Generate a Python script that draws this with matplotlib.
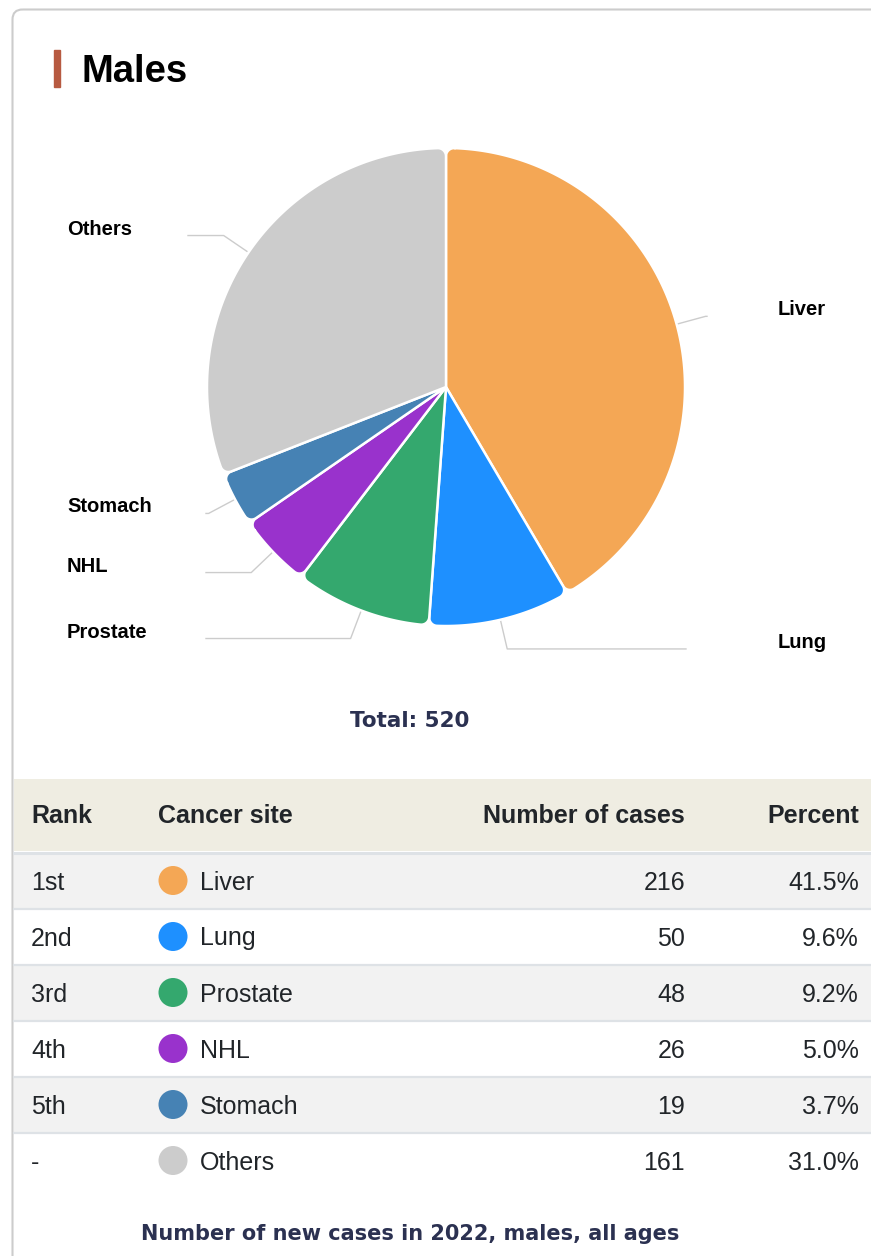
import numpy as np
import matplotlib
matplotlib.use("Agg")
import matplotlib.pyplot as plt
from matplotlib.patches import Rectangle, Circle, FancyBboxPatch, PathPatch
from matplotlib.path import Path

# data
sites = ["Liver", "Lung", "Prostate", "NHL", "Stomach", "Others"]
ranks = ["1st", "2nd", "3rd", "4th", "5th", "-"]
cases = [216, 50, 48, 26, 19, 161]
percents = [41.5, 9.6, 9.2, 5.0, 3.7, 31.0]
total = 520
colors = ["#f4a755", "#1e90ff", "#34a86e", "#9932cc", "#4682b4", "#cccccc"]

# label layout (pixels): where each label starts and where its connector ends
label_x = [778, 778, 67, 67, 67, 67]
connector_end_x = [707, 686, 206, 206, 206, 188]

W, H = 871, 1256
TEXT = "#212529"
NAVY = "#2b3151"

fig = plt.figure(figsize=(W / 100, H / 100), dpi=100)
fig.patch.set_facecolor("white")

bg = fig.add_axes([0, 0, 1, 1])
bg.set_xlim(0, W)
bg.set_ylim(H, 0)
bg.axis("off")

# card outline
bg.add_patch(FancyBboxPatch((12.5, 9.5), 1000, 1400,
                            boxstyle="round,pad=0,rounding_size=10",
                            fc="none", ec="#cccccc", lw=1.5))

# title
bg.add_patch(Rectangle((54, 50), 5.5, 37, color="#b75a41"))
bg.text(81, 82, "Males", fontsize=27.5, fontweight="bold",
        family="Liberation Sans", va="baseline", color="#000000")

# pie
cx, cy, R = 446, 387, 239
S = 300
pie_ax = fig.add_axes([(cx - S) / W, (H - cy - S) / H, 2 * S / W, 2 * S / H])
wedges, _ = pie_ax.pie(cases, colors=colors, radius=R, startangle=90,
                       counterclock=False)
pie_ax.set_xlim(-S, S)
pie_ax.set_ylim(-S, S)
pie_ax.axis("off")


def rounded_wedge(t1, t2, r, rc=8, n=16):
    a1, a2 = np.radians(t1), np.radians(t2)
    d = np.arcsin(rc / (r - rc))
    c1 = (r - rc) * np.array([np.cos(a1 + d), np.sin(a1 + d)])
    c2 = (r - rc) * np.array([np.cos(a2 - d), np.sin(a2 - d)])
    arc1 = np.linspace(a1 - np.pi / 2, a1 + d, n)
    outer = np.linspace(a1 + d, a2 - d, max(int(np.degrees(a2 - a1)) * 2, 4))
    arc2 = np.linspace(a2 - d, a2 + np.pi / 2, n)
    pts = [[0, 0]]
    pts += list(c1 + rc * np.c_[np.cos(arc1), np.sin(arc1)])
    pts += list(r * np.c_[np.cos(outer), np.sin(outer)])
    pts += list(c2 + rc * np.c_[np.cos(arc2), np.sin(arc2)])
    pts.append([0, 0])
    return Path(np.array(pts), closed=True)


for w in wedges:
    w.set_visible(False)
    pie_ax.add_patch(PathPatch(rounded_wedge(w.theta1, w.theta2, w.r),
                               fc=w.get_facecolor(), ec="white", lw=1.8))

# connectors and labels
for w, name, lx, ex in zip(wedges, sites, label_x, connector_end_x):
    mid = np.radians((w.theta1 + w.theta2) / 2)
    p0 = R * np.array([np.cos(mid), np.sin(mid)])
    p1 = (R + 30) * np.array([np.cos(mid), np.sin(mid)])
    pie_ax.plot([p0[0], p1[0], ex - cx], [p0[1], p1[1], p1[1]],
                color="#cccccc", lw=1, clip_on=False, zorder=0)
    pie_ax.text(lx - cx, p1[1] + 1, name, fontsize=14.5, fontweight="bold",
                family="Liberation Sans", ha="left", va="baseline", color="#000000")

bg.text(410, 727, f"Total: {total}", ha="center", va="baseline", fontsize=15.5,
        fontweight="bold", family="DejaVu Sans", color=NAVY)

# table
bg.add_patch(Rectangle((14, 779), W - 14, 72, color="#efede2", lw=0))
bg.plot([14, W], [852.5, 852.5], color="#dee2e6", lw=2.2)
hdr_kw = dict(fontsize=18, fontweight="bold", family="Liberation Sans",
              va="baseline", color=TEXT)
bg.text(31, 823, "Rank", ha="left", **hdr_kw)
bg.text(158, 823, "Cancer site", ha="left", **hdr_kw)
bg.text(685, 823, "Number of cases", ha="right", **hdr_kw)
bg.text(859, 823, "Percent", ha="right", **hdr_kw)

cell_kw = dict(fontsize=18, family="Liberation Sans", va="baseline", color=TEXT)
for i, (rk, site, n, pct, col) in enumerate(zip(ranks, sites, cases, percents, colors)):
    top = 853 + 56 * i
    mid = top + 27.5
    bg.add_patch(Rectangle((14, top), W - 14, 55,
                           color="#f2f2f2" if i % 2 == 0 else "white", lw=0))
    if i < len(sites) - 1:
        bg.plot([14, W], [top + 55.5, top + 55.5], color="#dee2e6", lw=1.6)
    bg.add_patch(Circle((173, mid), 14.5, color=col, lw=0))
    bg.text(31, mid + 9, rk, ha="left", **cell_kw)
    bg.text(200, mid + 9, site, ha="left", **cell_kw)
    bg.text(685, mid + 9, f"{n}", ha="right", **cell_kw)
    bg.text(859, mid + 9, f"{pct:.1f}%", ha="right", **cell_kw)

bg.text(410, 1240, "Number of new cases in 2022, males, all ages", ha="center",
        va="baseline", fontsize=15, fontweight="bold", family="DejaVu Sans",
        color=NAVY)

fig.savefig("out.png", dpi=100, facecolor="white")
